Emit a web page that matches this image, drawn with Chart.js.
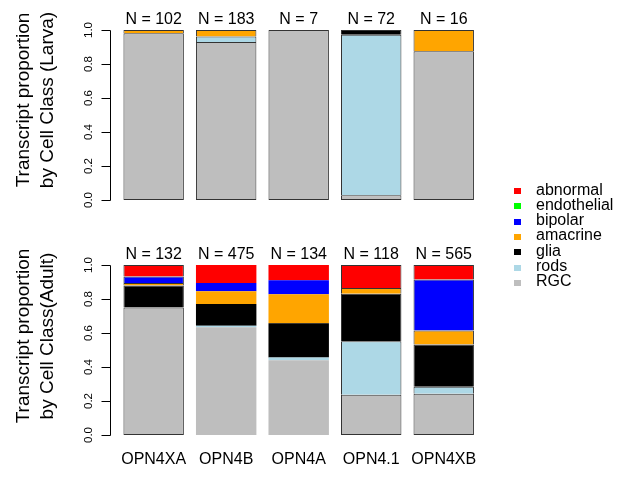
<!DOCTYPE html>
<html>
<head>
<meta charset="utf-8">
<script src="https://cdn.jsdelivr.net/npm/chart.js@4/dist/chart.umd.min.js"></script>
<style>
  html, body { margin: 0; padding: 0; background: #fff; }
  body { width: 630px; height: 477px; position: relative; overflow: hidden;
         font-family: "Liberation Sans", Arial, sans-serif; }
  #larvaWrap { position: absolute; left: 0; top: 0; width: 630px; height: 235px; }
  #adultWrap { position: absolute; left: 0; top: 235px; width: 630px; height: 242px; }
  #legend { position: absolute; left: 0; top: 0; width: 630px; height: 477px; pointer-events: none; }
  .key { position: absolute; width: 7px; height: 6px; }
  .keyText { position: absolute; font-size: 16px; line-height: 18px; white-space: nowrap; color: #000; }
</style>
</head>
<body>
<div id="larvaWrap"><canvas id="larva" width="630" height="235"></canvas></div>
<div id="adultWrap"><canvas id="adult" width="630" height="242"></canvas></div>
<div id="legend"></div>
<script>
// Opsin genes (one bar each)
const genes = ['OPN4XA', 'OPN4B', 'OPN4A', 'OPN4.1', 'OPN4XB'];

// Cell classes, in stacking order from the bottom of a bar to the top
const cellClasses = ['RGC', 'rods', 'glia', 'amacrine', 'bipolar', 'endothelial', 'abnormal'];
const classColors = ['#BEBEBE', '#ADD8E6', '#000000', '#FFA500', '#0000FF', '#00FF00', '#FF0000'];

// Transcript counts per cell class, larva
const larvaRGC         = [100, 170, 7,  2, 14];
const larvaRods        = [  0,   6, 0, 68,  0];
const larvaGlia        = [  0,   0, 0,  2,  0];
const larvaAmacrine    = [  2,   7, 0,  0,  2];
const larvaBipolar     = [  0,   0, 0,  0,  0];
const larvaEndothelial = [  0,   0, 0,  0,  0];
const larvaAbnormal    = [  0,   0, 0,  0,  0];

// Transcript counts per cell class, adult
const adultRGC         = [99, 301, 59, 28, 137];
const adultRods        = [ 0,   4,  2, 37,  23];
const adultGlia        = [17,  61, 27, 33, 141];
const adultAmacrine    = [ 2,  36, 23,  4,  46];
const adultBipolar     = [ 5,  23, 11,  0, 170];
const adultEndothelial = [ 0,   0,  0,  0,   0];
const adultAbnormal    = [ 9,  50, 12, 16,  48];

// Proportion axis
const yTicks = [0, 0.2, 0.4, 0.6, 0.8, 1.0];
const yTickLabels = ['0.0', '0.2', '0.4', '0.6', '0.8', '1.0'];

// Bars drawn with an outline in the adult panel
const adultOutlined = [true, false, false, true, true];

const FONT = '"Liberation Sans", Arial, sans-serif';

const larvaCounts = [larvaRGC, larvaRods, larvaGlia, larvaAmacrine, larvaBipolar, larvaEndothelial, larvaAbnormal];
const adultCounts = [adultRGC, adultRods, adultGlia, adultAmacrine, adultBipolar, adultEndothelial, adultAbnormal];

function totalsOf(counts) {
  return genes.map((g, i) => counts.reduce((s, arr) => s + arr[i], 0));
}

function makeDatasets(counts, outlined) {
  const totals = totalsOf(counts);
  return cellClasses.map((name, k) => ({
    label: name,
    data: counts[k].map((c, i) => c / totals[i]),
    backgroundColor: classColors[k],
    borderColor: '#333333',
    borderWidth: ctx => (outlined[ctx.dataIndex] ? 1 : 0),
    borderSkipped: k === 0 ? false : 'start',
    barPercentage: 1 / 1.2,
    categoryPercentage: 1
  }));
}

function decorPlugin(counts, titleLines, titleCenterY) {
  const totals = totalsOf(counts);
  return {
    id: 'panelDecor',
    afterDraw(chart) {
      const ctx = chart.ctx;
      const ys = chart.scales.y;
      const xs = chart.scales.x;
      ctx.save();
      // proportion axis with outward ticks
      const axisX = 110.5;
      ctx.strokeStyle = '#000';
      ctx.lineWidth = 1;
      ctx.beginPath();
      ctx.moveTo(axisX, Math.round(ys.getPixelForValue(0)) + 0.5);
      ctx.lineTo(axisX, Math.round(ys.getPixelForValue(1)) + 0.5);
      yTicks.forEach(v => {
        const py = Math.round(ys.getPixelForValue(v)) + 0.5;
        ctx.moveTo(axisX, py);
        ctx.lineTo(axisX - 9, py);
      });
      ctx.stroke();

      ctx.fillStyle = '#000';
      ctx.textAlign = 'center';
      ctx.textBaseline = 'alphabetic';
      ctx.font = '11.5px ' + FONT;
      yTicks.forEach((v, i) => {
        ctx.save();
        ctx.translate(92, ys.getPixelForValue(v));
        ctx.rotate(-Math.PI / 2);
        ctx.fillText(yTickLabels[i], 0, 0);
        ctx.restore();
      });

      // axis title, two lines
      ctx.font = '19px ' + FONT;
      const lineX = [29, 53];
      titleLines.forEach((t, i) => {
        ctx.save();
        ctx.translate(lineX[i], titleCenterY);
        ctx.rotate(-Math.PI / 2);
        ctx.fillText(t, 0, 0);
        ctx.restore();
      });

      // sample size above each bar
      ctx.font = '16px ' + FONT;
      totals.forEach((n, i) => {
        ctx.fillText('N = ' + n, xs.getPixelForValue(i), ys.getPixelForValue(1) - 6);
      });
      ctx.restore();
    }
  };
}

function baseOptions(showX, paddingBottom) {
  const xScale = {
    type: 'category',
    stacked: true,
    offset: true,
    display: showX,
    grid: { display: false, drawTicks: false },
    border: { display: false },
    ticks: { color: '#000', font: { family: FONT, size: 16 }, padding: 15, maxRotation: 0, autoSkip: false }
  };
  if (showX) xScale.afterFit = s => { s.height = 42; };
  return {
    responsive: false,
    animation: false,
    devicePixelRatio: 1,
    layout: { padding: { left: 117.4, right: 150, top: 30, bottom: paddingBottom } },
    plugins: { legend: { display: false }, tooltip: { enabled: false } },
    scales: {
      x: xScale,
      y: { stacked: true, min: 0, max: 1, display: false }
    }
  };
}

new Chart(document.getElementById('larva'), {
  type: 'bar',
  data: { labels: genes, datasets: makeDatasets(larvaCounts, [true, true, true, true, true]) },
  options: baseOptions(false, 35),
  plugins: [decorPlugin(larvaCounts, ['Transcript proportion', 'by Cell Class (Larva)'], 100)]
});

new Chart(document.getElementById('adult'), {
  type: 'bar',
  data: { labels: genes, datasets: makeDatasets(adultCounts, adultOutlined) },
  options: baseOptions(true, 0),
  plugins: [decorPlugin(adultCounts, ['Transcript proportion', 'by Cell Class(Adult)'], 101)]
});

// legend: top entry is the top of the stack
const legend = document.getElementById('legend');
const legendOrder = cellClasses.map((c, k) => k).reverse();
legendOrder.forEach((k, row) => {
  const baseline = 195 + row * 15.33;
  const key = document.createElement('div');
  key.className = 'key';
  key.style.left = '514px';
  key.style.top = (baseline - 7) + 'px';
  key.style.background = classColors[k];
  legend.appendChild(key);
  const txt = document.createElement('div');
  txt.className = 'keyText';
  txt.style.left = '536px';
  txt.style.top = (baseline - 14.5) + 'px';
  txt.textContent = cellClasses[k];
  legend.appendChild(txt);
});
</script>
</body>
</html>
